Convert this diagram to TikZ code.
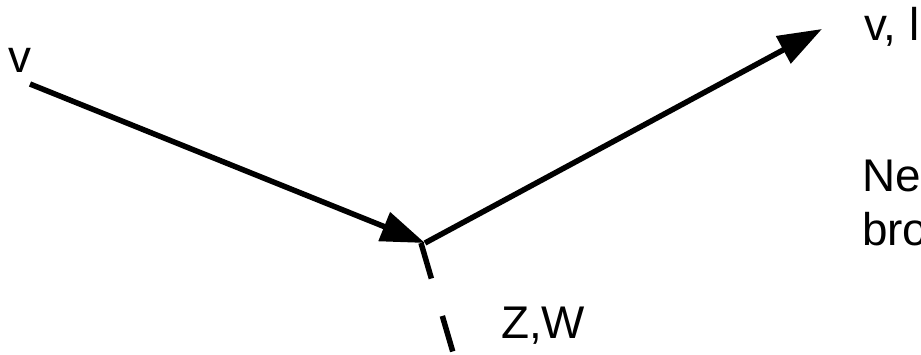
\documentclass[tikz,border=0pt]{standalone}
\usepackage{fontspec}
\setmainfont{Liberation Sans}
\usetikzlibrary{arrows.meta}
\tikzset{
  vec/.style={line width=5.5bp, -{Triangle[length=44bp, width=30bp]}},
  lbl/.style={inner sep=0pt, anchor=base west, align=left,
    font=\fontsize{46}{54}\selectfont}
}
\begin{document}
\begin{tikzpicture}[x=1bp, y=-1bp]
  \useasboundingbox (0,0) rectangle (921,354);
  \clip (0,0) rectangle (921,354);

  % Coordinates
  \coordinate (In) at (30,84);
  \coordinate (V) at (425,243);
  \coordinate (Vd) at (421,243);
  \coordinate (Out) at (822,29);
  \coordinate (Z) at (464,390);

  % Vectors and the dashed leg
  \draw[vec] (In) -- (V);
  \draw[vec] (V) -- (Out);
  \draw[line width=5.5bp, dash pattern=on 37bp off 39bp] (Vd) -- (Z);

  % Labels
  \node[lbl] (vin) at (8,72) {v};
  \node[lbl] (vout) at (864,40) {v, l};
  \node[lbl] (zw) at (501,338) {Z,W};
  \node[lbl] (note) at (862,245) {Ne\\bro};
\end{tikzpicture}
\end{document}
